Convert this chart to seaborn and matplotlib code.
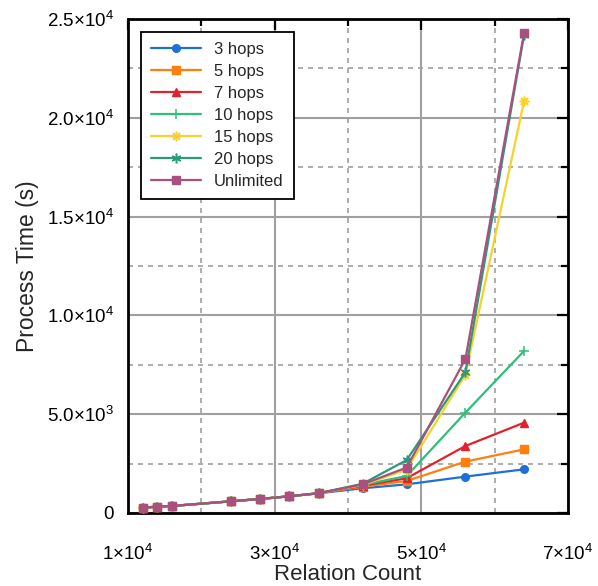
#Process time vs relation count, gnuplot-like look
import numpy as np
import matplotlib
matplotlib.use('Agg')
import matplotlib.pyplot as plt
import matplotlib.ticker as mticker
import seaborn as sns
import pandas as pd

#Data
relation_count = [12000, 14000, 16000, 24000, 28000, 32000, 36000, 42000, 48000, 56000, 64000]
hops_3 = [270, 320, 354, 590, 710, 845, 1000, 1250, 1450, 1840, 2210]
hops_5 = [270, 320, 354, 590, 710, 845, 1000, 1330, 1620, 2600, 3220]
hops_7 = [270, 320, 354, 590, 710, 845, 1000, 1380, 1760, 3390, 4570]
hops_10 = [270, 320, 354, 590, 710, 845, 1000, 1420, 1870, 5080, 8200]
hops_15 = [270, 320, 354, 590, 710, 845, 1000, 1420, 2200, 7000, 20850]
hops_20 = [270, 320, 354, 590, 710, 845, 1000, 1480, 2680, 7120, 24200]
unlimited = [270, 320, 354, 590, 710, 845, 1000, 1450, 2300, 7790, 24300]

labels = ['3 hops', '5 hops', '7 hops', '10 hops', '15 hops', '20 hops', 'Unlimited']
series = [hops_3, hops_5, hops_7, hops_10, hops_15, hops_20, unlimited]
colors = ['#1f6fd8', '#ff7f0e', '#e3212b', '#2ebf78', '#f8d22a', '#2a9a7a', '#a8507e']
markers = ['o', 's', '^', '+', (8, 2, 0), (6, 2, 0), 's']

x_major = [10000, 30000, 50000, 70000]
x_minor = [20000, 40000, 60000]

sns.set_style('white')
plt.rcParams['font.family'] = ['Liberation Sans', 'DejaVu Sans']
plt.rcParams['mathtext.fontset'] = 'custom'
plt.rcParams['mathtext.rm'] = 'Liberation Sans'
plt.rcParams['mathtext.it'] = 'Liberation Sans'

fig = plt.figure(figsize=(5.98, 5.86), dpi=100)
ax = fig.add_axes([0.214, 0.1246, 0.736, 0.843])

for lab, vals, c, m in zip(labels, series, colors, markers):
    df = pd.DataFrame({'x': relation_count, 'y': vals})
    filled = m in ('o', 's', '^')
    sns.lineplot(data=df, x='x', y='y', ax=ax, color=c, marker=m, label=lab,
                 linewidth=1.6, markersize=5.5 if filled else 7,
                 markeredgewidth=1 if filled else 1.1, markeredgecolor=c, zorder=3)

ax.set_xlim(10000, 70000)
ax.set_ylim(0, 25000)

ax.xaxis.set_major_locator(mticker.FixedLocator(x_major))
ax.xaxis.set_minor_locator(mticker.FixedLocator(x_minor))
ax.yaxis.set_major_locator(mticker.MultipleLocator(5000))
ax.yaxis.set_minor_locator(mticker.MultipleLocator(2500))

def xfmt(v, pos):
    return r'$%d{\times}10^{4}$' % round(v / 10000)

def yfmt(v, pos):
    if v <= 0:
        return '0'
    e = int(np.floor(np.log10(v)))
    return r'$%.1f{\times}10^{%d}$' % (v / 10**e, e)

ax.xaxis.set_major_formatter(mticker.FuncFormatter(xfmt))
ax.yaxis.set_major_formatter(mticker.FuncFormatter(yfmt))

ax.grid(which='major', color='#a0a0a0', linestyle='-', linewidth=1.5, zorder=0)
ax.grid(which='minor', color='#a0a0a0', linestyle=(0, (3, 3)), linewidth=1.2, zorder=0)
ax.set_axisbelow(True)

ax.tick_params(which='both', direction='in', top=True, right=True, colors='black')
ax.tick_params(which='major', length=8, width=1.6, labelsize=13.5)
ax.tick_params(axis='x', which='major', pad=22)
ax.tick_params(axis='y', which='major', pad=10)
ax.tick_params(which='minor', length=5, width=1.6)
for s in ax.spines.values():
    s.set_color('black')
    s.set_linewidth(2)

ax.set_xlabel('Relation Count', fontsize=16, labelpad=0)
ax.set_ylabel('Process Time (s)', fontsize=16.5, labelpad=6)

leg = ax.legend(loc='upper left', fontsize=12, frameon=True, fancybox=False,
                edgecolor='black', framealpha=1, handlelength=3.0,
                borderpad=0.6, labelspacing=0.42, bbox_to_anchor=(0.01, 0.99))
leg.get_frame().set_linewidth(1.3)

fig.savefig('out.png', dpi=100)
